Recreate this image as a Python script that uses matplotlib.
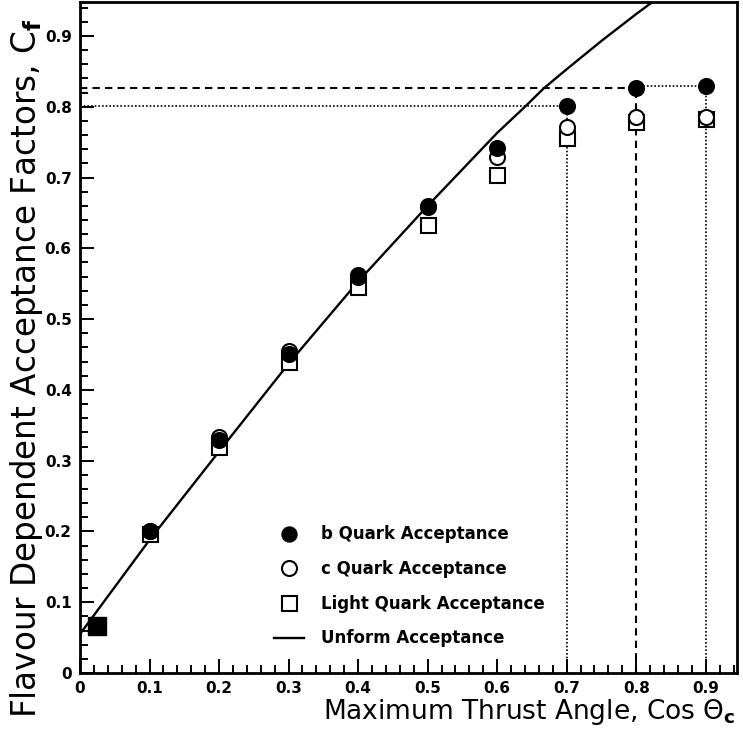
import matplotlib
matplotlib.use("Agg")
import matplotlib.pyplot as plt
from matplotlib.ticker import MultipleLocator
from matplotlib.lines import Line2D

# Thrust-angle cut values and flavour acceptance factors
cos_cut = [0.1, 0.2, 0.3, 0.4, 0.5, 0.6, 0.7, 0.8, 0.9]
b_acc = [0.200, 0.329, 0.450, 0.563, 0.660, 0.742, 0.801, 0.826, 0.830]
c_acc = [0.201, 0.334, 0.455, 0.560, 0.658, 0.729, 0.771, 0.786, 0.786]
light_acc = [0.196, 0.320, 0.439, 0.545, 0.633, 0.704, 0.756, 0.779, 0.782]

# Common point at the lowest cut (all flavours coincide)
low_cut = [0.025]
low_acc = [0.066]

# Uniform acceptance curve
uni_x = [0.0, 0.1, 0.2, 0.3, 0.4, 0.5, 0.6, 0.64, 0.667, 0.7, 0.75, 0.8, 0.84]
uni_y = [0.055, 0.188, 0.313, 0.437, 0.553, 0.660, 0.763, 0.800, 0.826, 0.853,
         0.893, 0.931, 0.960]

# Cut values highlighted with reference lines
ref_cuts = [0.7, 0.8, 0.9]

fig = plt.figure(figsize=(7.43, 7.35), dpi=100)
ax = fig.add_axes([80 / 743, 62 / 735, 657 / 743, 671 / 735])

ax.set_xlim(0, 0.945)
ax.set_ylim(0, 0.948)

# reference lines at the b acceptance for the chosen cuts
dot = (0, (1, 1.2))
dash = (0, (3.5, 2.5))
ref_b = [b_acc[cos_cut.index(c)] for c in ref_cuts]
ax.plot([0, ref_cuts[0]], [ref_b[0], ref_b[0]], color="black", lw=1.2, ls=dot)
ax.plot([ref_cuts[0], ref_cuts[0]], [0, ref_b[0]], color="black", lw=1.2, ls=dot)
ax.plot([0, ref_cuts[1]], [ref_b[1], ref_b[1]], color="black", lw=1.5, ls=dash)
ax.plot([ref_cuts[1], ref_cuts[1]], [0, ref_b[1]], color="black", lw=1.5, ls=dash)
ax.plot([ref_cuts[1], ref_cuts[2]], [ref_b[2], ref_b[2]], color="black", lw=1.2, ls=dot)
ax.plot([ref_cuts[2], ref_cuts[2]], [0, ref_b[2]], color="black", lw=1.2, ls=dot)

ax.plot(uni_x, uni_y, color="black", lw=1.7, zorder=3)

ms = 10.8
ax.plot(cos_cut, light_acc, ls="none", marker="s", ms=ms, mfc="white", mec="black", mew=1.5, zorder=4)
ax.plot(cos_cut, c_acc, ls="none", marker="o", ms=ms, mfc="white", mec="black", mew=1.5, zorder=5)
ax.plot(cos_cut, b_acc, ls="none", marker="o", ms=ms, mfc="black", mec="black", mew=1.5, zorder=6)
ax.plot(low_cut, low_acc, ls="none", marker="s", ms=12.5, mfc="black", mec="black", zorder=6)

for sp in ax.spines.values():
    sp.set_linewidth(2)

ax.xaxis.set_major_locator(MultipleLocator(0.1))
ax.xaxis.set_minor_locator(MultipleLocator(0.02))
ax.yaxis.set_major_locator(MultipleLocator(0.1))
ax.yaxis.set_minor_locator(MultipleLocator(0.02))
ax.tick_params(which="both", direction="in", top=False, right=False, width=1.4)
ax.tick_params(which="major", length=10, labelsize=11, pad=6)
ax.tick_params(which="minor", length=6)

fmt = lambda v: "0" if abs(v) < 1e-9 else f"{v:.1f}"
xt = [i / 10 for i in range(10)]
ax.set_xticks(xt)
ax.set_xticklabels([fmt(v) for v in xt])
ax.set_yticks(xt)
ax.set_yticklabels([fmt(v) for v in xt])
for lab in ax.get_xticklabels() + ax.get_yticklabels():
    lab.set_fontweight("bold")

fig.text(735 / 743, 23 / 735, "Maximum Thrust Angle, Cos \u0398$_\\mathbf{c}$",
         ha="right", va="center", fontsize=19)
fig.text(27 / 743, 17 / 735, "Flavour Dependent Acceptance Factors, C$_\\mathbf{f}$",
         ha="center", va="bottom", rotation=90, fontsize=23.5)

handles = [
    Line2D([], [], ls="none", marker="o", ms=ms, mfc="black", mec="black"),
    Line2D([], [], ls="none", marker="o", ms=ms, mfc="white", mec="black", mew=1.5),
    Line2D([], [], ls="none", marker="s", ms=ms, mfc="white", mec="black", mew=1.5),
    Line2D([], [], color="black", lw=1.7),
]
labels = ["b Quark Acceptance", "c Quark Acceptance",
          "Light Quark Acceptance", "Unform Acceptance"]
leg = ax.legend(handles, labels, loc="upper left", bbox_to_anchor=(266 / 743, 218 / 735),
                bbox_transform=fig.transFigure, frameon=False,
                prop={"weight": "bold", "size": 12}, handlelength=1.8,
                handletextpad=1.0, labelspacing=1.0, borderpad=0)

fig.savefig("out.png", dpi=100)
